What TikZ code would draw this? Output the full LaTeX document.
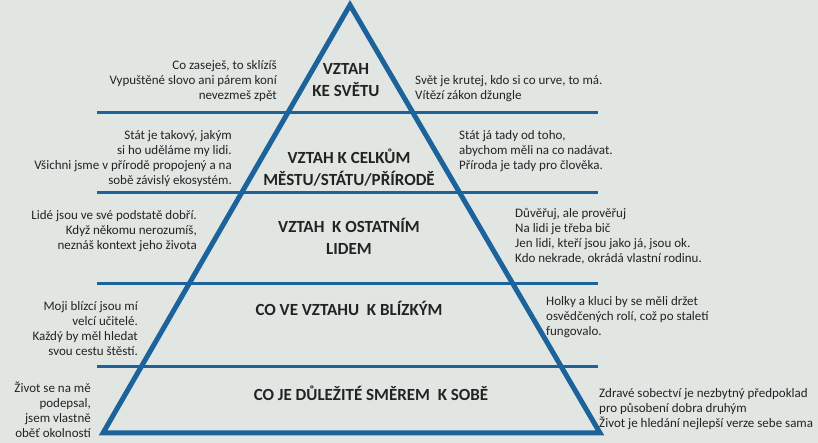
\documentclass[tikz,border=0pt]{standalone}
\usepackage{fontspec}
\setmainfont{Carlito}
\definecolor{pyrblue}{RGB}{28,98,155}
\definecolor{paper}{RGB}{226,230,227}
\definecolor{ink}{RGB}{35,35,35}
\begin{document}
\begin{tikzpicture}[x=1pt,y=1pt,
    level/.style={line width=3pt, pyrblue},
    side/.style={line width=5pt, pyrblue, line join=miter},
    noteleft/.style={anchor=north east, align=right, inner sep=0pt,
      font=\fontsize{13}{15}\selectfont, text=ink},
    noteright/.style={anchor=north west, align=left, inner sep=0pt,
      font=\fontsize{13}{15}\selectfont, text=ink},
    tier/.style={align=center, inner sep=0pt,
      font=\fontsize{17}{22}\selectfont\bfseries, text=ink}]
  \fill[paper] (0,0) rectangle (818,443);
  \useasboundingbox (0,0) rectangle (818,443);

  % horizontal levels
  \foreach \y in {330,250,159,76}
    \draw[level] (97,\y) -- (598,\y);
  % the pyramid
  \draw[side] (103,10) -- (350,438) -- (600,10) -- cycle;

  % top: world
  \node[noteleft] (w1) at (277,383) {Co zaseješ, to sklízíš\\Vypuštěné slovo ani párem koní\\nevezmeš zpět};
  \node[noteright] (e1) at (415,368) {Svět je krutej, kdo si co urve, to má.\\Vítězí zákon džungle};
  \node[tier] (t1) at (346,363) {VZTAH\\KE SVĚTU};

  % wholes
  \node[noteleft] (w2) at (232,313) {Stát je takový, jakým\\si ho uděláme my lidi.\\Všichni jsme v přírodě propojený a na\\sobě závislý ekosystém.};
  \node[noteright] (e2) at (459,313) {Stát já tady od toho,\\abychom měli na co nadávat.\\Příroda je tady pro člověka.};
  \node[tier] (t2) at (349,275) {VZTAH K CELKŮM\\MĚSTU/STÁTU/PŘÍRODĚ};

  % other people
  \node[noteleft] (w3) at (197,233) {Lidé jsou ve své podstatě dobří.\\Když někomu nerozumíš,\\neznáš kontext jeho života};
  \node[noteright] (e3) at (515,235) {Důvěřuj, ale prověřuj\\Na lidi je třeba bič\\Jen lidi, kteří jsou jako já, jsou ok.\\Kdo nekrade, okrádá vlastní rodinu.};
  \node[tier] (t3) at (349,207) {VZTAH\ \ K OSTATNÍM\\LIDEM};

  % close ones
  \node[noteleft] (w4) at (138,142) {Moji blízcí jsou mí\\velcí učitelé.\\Každý by měl hledat\\svou cestu štěstí.};
  \node[noteright] (e4) at (546,147) {Holky a kluci by se měli držet\\osvědčených rolí, což po staletí\\fungovalo.};
  \node[tier] (t4) at (349,135) {CO VE VZTAHU\ \ K BLÍZKÝM};

  % oneself
  \node[noteleft] (w5) at (91,61) {Život se na mě\\podepsal,\\jsem vlastně\\oběť okolností};
  \node[noteright] (e5) at (599,55) {Zdravé sobectví je nezbytný předpoklad\\pro působení dobra druhým\\Život je hledání nejlepší verze sebe sama};
  \node[tier] (t5) at (371,50) {CO JE DŮLEŽITÉ SMĚREM\ \ K SOBĚ};
\end{tikzpicture}
\end{document}
